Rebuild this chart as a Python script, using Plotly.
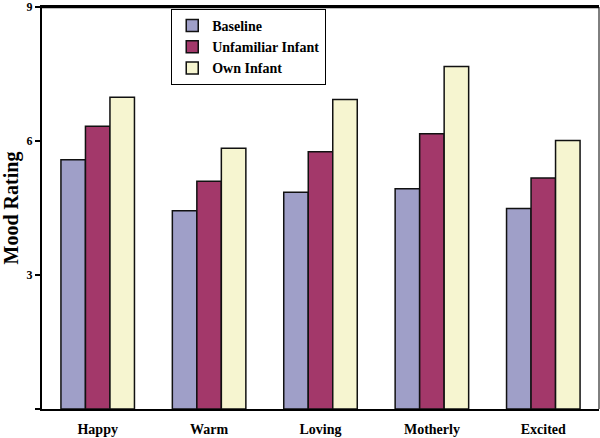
import plotly.graph_objects as go

categories = ["Happy", "Warm", "Loving", "Motherly", "Excited"]
baseline = [5.58, 4.44, 4.85, 4.93, 4.49]
unfamiliar = [6.33, 5.10, 5.76, 6.16, 5.17]
own = [6.98, 5.84, 6.93, 7.67, 6.01]
series_names = ["Baseline", "Unfamiliar Infant", "Own Infant"]
colors = ["#9f9fc8", "#a3386a", "#f6f5d0"]

font_family = "Liberation Serif"

fig = go.Figure()
for name, vals, col in zip(series_names, [baseline, unfamiliar, own], colors):
    fig.add_trace(go.Bar(
        x=categories, y=vals, name=name,
        marker=dict(color=col, line=dict(color="#111111", width=1.5)),
    ))

fig.update_layout(
    width=600, height=438,
    margin=dict(l=42, r=1, t=7, b=29),
    paper_bgcolor="white", plot_bgcolor="white",
    barmode="group", bargap=0.34, bargroupgap=0,
    font=dict(family=font_family, color="black"),
    showlegend=True,
    legend=dict(
        x=0.232, y=0.995, xanchor="left", yanchor="top",
        bgcolor="white", bordercolor="black", borderwidth=1,
        font=dict(family=font_family, size=14, color="black", weight="bold"),
        tracegroupgap=0, itemwidth=30,
    ),
    xaxis=dict(
        showline=True, linecolor="black", linewidth=2, mirror=True,
        ticks="", showgrid=False, automargin=False,
        tickfont=dict(family=font_family, size=14, color="black", weight="bold"),
        ticklabelstandoff=6, ticklabeloverflow="allow",
    ),
    yaxis=dict(
        range=[0, 9], showline=True, linecolor="black", linewidth=2,
        tickvals=[0, 3, 6, 9], ticktext=["", "3", "6", "9"],
        ticks="outside", ticklen=5, tickwidth=1.5, tickcolor="black",
        showgrid=False, zeroline=False, automargin=False,
        ticklabeloverflow="allow",
        tickfont=dict(family=font_family, size=12, color="black", weight="bold"),
        title=dict(text="Mood Rating", font=dict(family=font_family, size=20, color="black", weight="bold"), standoff=8),
    ),
    shapes=[
        dict(type="line", xref="paper", yref="paper", x0=1, x1=1, y0=0, y1=1,
             line=dict(color="black", width=1)),
        dict(type="line", xref="paper", yref="paper", x0=0, x1=1, y0=1, y1=1,
             line=dict(color="black", width=2.5), layer="above"),
    ],
)

fig.write_html("out.html")
